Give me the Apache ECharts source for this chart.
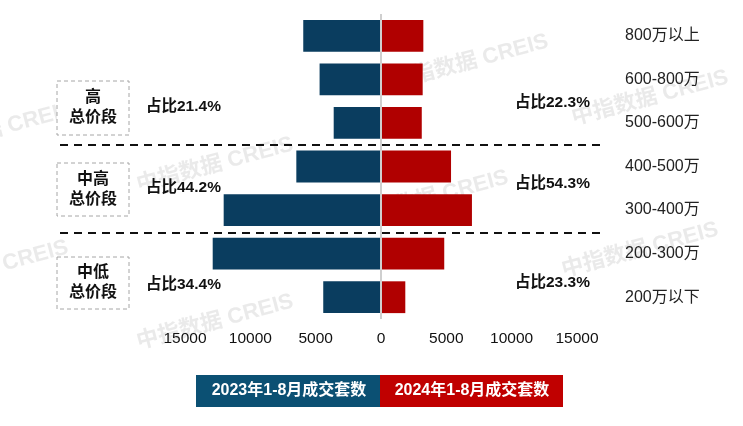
<!DOCTYPE html>
<html><head><meta charset="utf-8">
<script src="https://cdn.jsdelivr.net/npm/echarts@6/dist/echarts.min.js"></script>
<style>html,body{margin:0;padding:0;background:#fff}#c{width:743px;height:426px}</style>
</head><body><div id="c"></div>
<script>
var categories = ['800万以上','600-800万','500-600万','400-500万','300-400万','200-300万','200万以下'];
var values2023 = [5950, 4700, 3620, 6480, 12040, 12880, 4420];
var values2024 = [3240, 3190, 3120, 5360, 6960, 4840, 1860];
var tickValues = [-15000, -10000, -5000, 0, 5000, 10000, 15000];
var groupNames = ['高\n总价段', '中高\n总价段', '中低\n总价段'];
var share2023 = ['占比21.4%', '占比44.2%', '占比34.4%'];
var share2024 = ['占比22.3%', '占比54.3%', '占比23.3%'];
var seriesNames = ['2023年1-8月成交套数', '2024年1-8月成交套数'];

var FF = "'Liberation Sans','Noto Sans CJK SC',sans-serif";
var chart = echarts.init(document.getElementById('c'));

var wm = [[-5,130],[215,165],[650,98],[430,198],[-10,268],[640,250],[215,322],[470,62]];
var graphics = [];
wm.forEach(function(p){
  graphics.push({type:'text', x:p[0], y:p[1], rotation:15*Math.PI/180, z:-10, silent:true,
    style:{text:'中指数据 CREIS', fill:'rgba(200,200,200,0.38)', font:'bold 22px '+FF, align:'center', verticalAlign:'middle'}});
});
// dashed separators
[145, 233].forEach(function(y){
  graphics.push({type:'line', shape:{x1:60,y1:y,x2:605,y2:y}, z:5,
    style:{stroke:'#111', lineWidth:2, lineDash:[8,6]}});
});
// group boxes
var boxY = [[81,135],[163,216],[257,309]];
boxY.forEach(function(b,i){
  graphics.push({type:'rect', shape:{x:57,y:b[0],width:72,height:b[1]-b[0]}, z:5,
    style:{fill:'#fff', stroke:'#a6a6a6', lineWidth:1, lineDash:[4,3]}});
  graphics.push({type:'text', x:93, y:(b[0]+b[1])/2, z:6,
    style:{text:groupNames[i], font:'bold 16px '+FF, fill:'#111', align:'center', verticalAlign:'middle', lineHeight:20}});
});
var leftY = [107, 188, 285], rightY = [103, 184, 283];
share2023.forEach(function(t,i){
  graphics.push({type:'text', x:146, y:leftY[i], z:6,
    style:{text:t, font:'bold 15.5px '+FF, fill:'#111', align:'left', verticalAlign:'middle'}});
});
share2024.forEach(function(t,i){
  graphics.push({type:'text', x:515, y:rightY[i], z:6,
    style:{text:t, font:'bold 15.5px '+FF, fill:'#111', align:'left', verticalAlign:'middle'}});
});
// legend
graphics.push({type:'rect', shape:{x:196,y:375,width:184,height:32}, style:{fill:'#0b5073'}});
graphics.push({type:'rect', shape:{x:380,y:375,width:183,height:32}, style:{fill:'#c00000'}});
graphics.push({type:'text', x:289, y:391, style:{text:seriesNames[0], font:'bold 16px '+FF, fill:'#fff', align:'center', verticalAlign:'middle'}});
graphics.push({type:'text', x:472, y:391, style:{text:seriesNames[1], font:'bold 16px '+FF, fill:'#fff', align:'center', verticalAlign:'middle'}});

chart.setOption({
  animation:false,
  backgroundColor:'#fff',
  grid:{left:185, right:166, top:14, bottom:107, containLabel:false},
  xAxis:{type:'value', min:-15000, max:15000, interval:5000,
    axisLine:{show:false}, axisTick:{show:false}, splitLine:{show:false},
    axisLabel:{margin:12, color:'#111', fontSize:15.5, fontFamily:FF,
      formatter:function(v){return String(Math.abs(v));},
      customValues: tickValues}},
  yAxis:{type:'category', data:categories, inverse:true, position:'right',
    axisLine:{show:false}, axisTick:{show:false},
    axisLabel:{margin:48, color:'#222', fontSize:16, fontFamily:FF, align:'left'}},
  series:[
    {name:seriesNames[0], type:'bar', stack:'a', barCategoryGap:'27%',
     data:values2023.map(function(v){return -v;}),
     itemStyle:{color:'#0a3d5f'},
     markLine:{silent:true, symbol:'none', label:{show:false},
       lineStyle:{color:'#cfcfcf', type:'solid', width:2}, data:[{xAxis:0}]}},
    {name:seriesNames[1], type:'bar', stack:'a', barCategoryGap:'27%',
     data:values2024, itemStyle:{color:'#b00000'}}
  ],
  graphic:graphics
});
</script></body></html>
